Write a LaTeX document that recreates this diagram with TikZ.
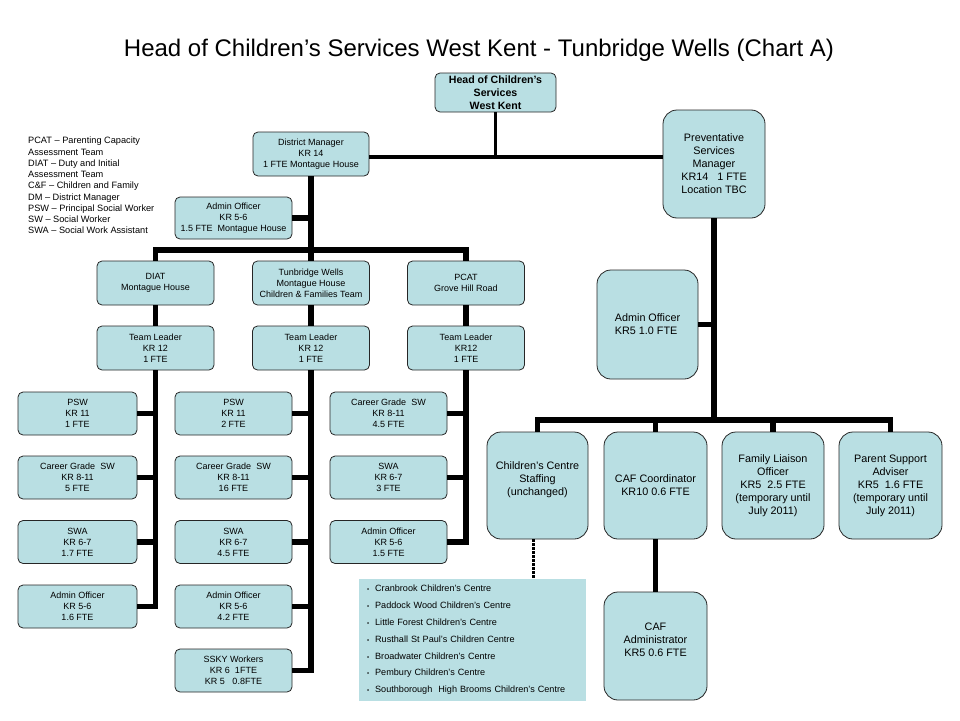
\documentclass[tikz,border=0pt]{standalone}
\usepackage{fontspec}
\setmainfont{Liberation Sans}
\usepackage{tikz}
\usetikzlibrary{positioning, calc}
\definecolor{boxblue}{RGB}{185,223,227}
\newcommand{\centrebullet}{{\fontsize{6}{6}\selectfont •}\ \ }

\begin{document}
\begin{tikzpicture}[x=1pt, y=-1pt,
    box/.style={draw=black!85, line width=0.8pt, fill=boxblue, rounded corners=5pt, align=center, inner sep=1pt},
    smallbox/.style={box, minimum width=117pt, minimum height=43pt, font=\fontsize{9}{11}\selectfont},
    bigbox/.style={box, rounded corners=14pt, minimum width=102pt, minimum height=107pt, font=\fontsize{10.8}{13}\selectfont},
    link/.style={line width=5.5pt},
    thinlink/.style={line width=3.5pt}]
    \useasboundingbox (0,0) rectangle (960,720);

    % Title
    \node[font=\fontsize{24}{28}\selectfont] (title) at (479,50) {Head of Children's Services West Kent - Tunbridge Wells (Chart A)};

    % Top of the chart
    \node[box, minimum width=121pt, minimum height=39pt, font=\bfseries\fontsize{10.6}{13}\selectfont] (head) at (495.5,92.5) {Head of Children's\\Services\\West Kent};
    \node[smallbox, minimum width=116pt, minimum height=44pt] (dm) at (311,154) {District Manager\\KR 14\\1 FTE Montague House};
    \node[bigbox, minimum height=108pt] (prev) at (714,164) {Preventative\\Services\\Manager\\KR14\ \ \ 1 FTE\\Location TBC};
    \node[smallbox, minimum height=42pt] (aodm) at (233.5,218) {Admin Officer\\KR 5-6\\1.5 FTE\ \ Montague House};

    % Legend
    \node[anchor=north west, align=left, inner sep=0pt, font=\fontsize{9.2}{11.25}\selectfont] (legend) at (28,137)
        {PCAT -- Parenting Capacity\\Assessment Team\\DIAT -- Duty and Initial\\Assessment Team\\C\&F -- Children and Family\\DM -- District Manager\\PSW -- Principal Social Worker\\SW -- Social Worker\\SWA -- Social Work Assistant};

    % Teams
    \node[smallbox, minimum height=44pt] (diat) at (155.5,283) {DIAT\\Montague House};
    \node[smallbox, minimum height=44pt] (tw) at (311,283) {Tunbridge Wells\\Montague House\\Children \& Families Team};
    \node[smallbox, minimum height=44pt] (pcat) at (466,283) {PCAT\\Grove Hill Road};
    \node[smallbox, minimum height=44pt] (tldiat) at (155.5,348) {Team Leader\\KR 12\\1 FTE};
    \node[smallbox, minimum height=44pt] (tltw) at (311,348) {Team Leader\\KR 12\\1 FTE};
    \node[smallbox, minimum height=44pt] (tlpcat) at (466,348) {Team Leader\\KR12\\1 FTE};

    % DIAT staff
    \node[smallbox, minimum width=119pt] (pswdiat) at (77.5,413.5) {PSW\\KR 11\\1 FTE};
    \node[smallbox, minimum width=119pt] (cgdiat) at (77.5,477.5) {Career Grade\ \ SW\\KR 8-11\\5 FTE};
    \node[smallbox, minimum width=119pt] (swadiat) at (77.5,542) {SWA\\KR 6-7\\1.7 FTE};
    \node[smallbox, minimum width=119pt] (aodiat) at (77.5,606.5) {Admin Officer\\KR 5-6\\1.6 FTE};

    % Tunbridge Wells staff
    \node[smallbox] (pswtw) at (233.5,413.5) {PSW\\KR 11\\2 FTE};
    \node[smallbox] (cgtw) at (233.5,477.5) {Career Grade\ \ SW\\KR 8-11\\16 FTE};
    \node[smallbox] (swatw) at (233.5,542) {SWA\\KR 6-7\\4.5 FTE};
    \node[smallbox] (aotw) at (233.5,606.5) {Admin Officer\\KR 5-6\\4.2 FTE};
    \node[smallbox] (sskytw) at (233.5,670.5) {SSKY Workers\\KR 6\ \ 1FTE\\KR 5\ \ \ 0.8FTE};

    % PCAT staff
    \node[smallbox] (cgpcat) at (388.5,413.5) {Career Grade\ \ SW\\KR 8-11\\4.5 FTE};
    \node[smallbox] (swapcat) at (388.5,477.5) {SWA\\KR 6-7\\3 FTE};
    \node[smallbox] (aopcat) at (388.5,542) {Admin Officer\\KR 5-6\\1.5 FTE};

    % Preventative services
    \node[bigbox, minimum width=101pt, minimum height=109pt, align=left] (aoprev) at (647.5,324.5) {Admin Officer\\KR5 1.0 FTE};
    \node[bigbox, minimum width=101pt] (ccs) at (537.5,485.5) {Children's Centre\\Staffing\\(unchanged)\\\mbox{}};
    \node[bigbox, minimum width=103pt] (caf) at (655.5,485.5) {CAF Coordinator\\KR10 0.6 FTE};
    \node[bigbox] (flo) at (773,485.5) {Family Liaison\\Officer\\KR5\ \ 2.5 FTE\\(temporary until\\July 2011)};
    \node[bigbox, minimum width=103pt] (psa) at (890.5,485.5) {Parent Support\\Adviser\\KR5\ \ 1.6 FTE\\(temporary until\\July 2011)};
    \node[bigbox, minimum width=103pt, minimum height=108pt] (cafadm) at (655.5,646) {CAF\\Administrator\\KR5 0.6 FTE\\\mbox{}};

    % Children's centres
    \node[fill=boxblue, minimum width=227pt, minimum height=122pt, text width=211pt, inner xsep=8pt, align=left,
        font=\fontsize{9.1}{16.8}\selectfont] (centres) at (472.5,640)
        {\centrebullet Cranbrook Children's Centre\\
         \centrebullet Paddock Wood Children's Centre\\
         \centrebullet Little Forest Children's Centre\\
         \centrebullet Rusthall St Paul's Children Centre\\
         \centrebullet Broadwater Children's Centre\\
         \centrebullet Pembury Children's Centre\\
         \centrebullet Southborough\ \ High Brooms Children's Centre};

    % Head links
    \coordinate (headbar) at (495.5,157);
    \draw[thinlink] (head.south) -- (headbar);
    \draw[thinlink] (dm.east |- headbar) -- (prev.west |- headbar);

    % District manager tree
    \coordinate (dmbar) at (311,250);
    \draw[link] (dm.south) -- (tw.north);
    \draw[link] (aodm.east) -- (aodm.east -| dm.south);
    \draw[link] (diat.north) |- (dmbar) -| (pcat.north);
    \draw[link] (diat.south) -- (tldiat.north);
    \draw[link] (tw.south) -- (tltw.north);
    \draw[link] (pcat.south) -- (tlpcat.north);

    % Team trees
    \draw[link] (tldiat.south) |- (aodiat.east);
    \draw[link] (tldiat.south) |- (pswdiat.east);
    \draw[link] (tldiat.south) |- (cgdiat.east);
    \draw[link] (tldiat.south) |- (swadiat.east);
    \draw[link] (tltw.south) |- (sskytw.east);
    \draw[link] (tltw.south) |- (pswtw.east);
    \draw[link] (tltw.south) |- (cgtw.east);
    \draw[link] (tltw.south) |- (swatw.east);
    \draw[link] (tltw.south) |- (aotw.east);
    \draw[link] (tlpcat.south) |- (aopcat.east);
    \draw[link] (tlpcat.south) |- (cgpcat.east);
    \draw[link] (tlpcat.south) |- (swapcat.east);

    % Preventative tree
    \coordinate (prevbar) at (714,420);
    \draw[link] (prev.south) -- (prevbar);
    \draw[link] (aoprev.east) -- (aoprev.east -| prev.south);
    \draw[link] (ccs.north) |- (prevbar) -| (psa.north);
    \draw[link] (caf.north) -- (caf.north |- prevbar);
    \draw[link] (flo.north) -- (flo.north |- prevbar);
    \draw[link] (caf.south) -- (cafadm.north);
    \draw[line width=3pt, dash pattern=on 2.5pt off 1.5pt] ([xshift=-4pt]ccs.south) -- ([xshift=-4pt]ccs.south |- centres.north);
\end{tikzpicture}
\end{document}
